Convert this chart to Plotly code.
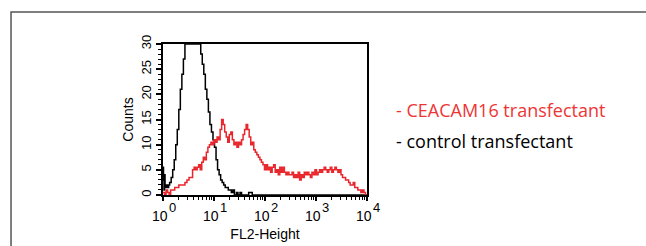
import numpy as np
import plotly.graph_objects as go

# log10(FL2-Height) channel positions and counts
ceacam_log = [0.00,0.03,0.06,0.09,0.12,0.15,0.19,0.23,0.27,0.31,0.35,0.39,0.43,0.47,0.51,0.55,0.58,0.61,0.64,0.67,
              0.70,0.73,0.76,0.79,0.82,0.85,0.88,0.91,0.94,0.97,1.00,1.03,1.06,1.09,1.12,1.15,1.18,1.21,1.24,1.27,
              1.30,1.33,1.36,1.39,1.42,1.45,1.48,1.51,1.54,1.57,1.60,1.63,1.66,1.69,1.72,1.75,1.78,1.81,1.84,1.87,
              1.90,1.93,1.96,1.99,2.02,2.05,2.08,2.11,2.14,2.17,2.20,2.23,2.26,2.29,2.32,2.35,2.38,2.41,2.44,2.47,
              2.50,2.53,2.56,2.59,2.62,2.65,2.68,2.71,2.74,2.77,2.80,2.83,2.86,2.89,2.92,2.95,2.98,3.01,3.04,3.07,
              3.10,3.13,3.16,3.19,3.22,3.25,3.28,3.31,3.34,3.37,3.40,3.43,3.46,3.49,3.52,3.55,3.58,3.61,3.64,3.67,
              3.70,3.73,3.76,3.79,3.82,3.85,3.88,3.91,3.94,3.97,4.00]
ceacam_counts = [0.5,0,1,0.5,0,1,1,1.5,1.5,2,2,2,2.5,3,3.5,3.5,5,5.5,5,5.5,
                 6,5,6.5,7.5,7,8.5,9.5,10,10.5,10,11,10.5,11.5,11,13,15,14,12.5,11.5,10.5,
                 12,12.5,11,10,10.5,9.5,10.5,10,11,12,13,14,13,11.5,10,10.5,9,8.5,8,7.5,
                 7,6.5,6,5,6,5,5.5,4.5,5.5,6,4.5,5,4,5.5,4.5,5.5,4.5,4,4.5,4,
                 4,4.5,3.5,4,3.5,4.5,3,4,3.5,4.5,4,4.5,4,3.5,4.5,4,5,4,4.5,5,
                 4.5,5,5.5,5,4.5,5,5.5,4.5,5,5.5,5,4.5,5,4,3.5,3.5,3,3,2.5,2,
                 2,2.5,1.5,1.5,1,1,0.5,1,0.5,0,0]

control_log = [0.00,0.01,0.02,0.03,0.04,0.05,0.07,0.09,0.11,0.13,0.16,0.19,0.22,0.25,0.28,0.31,0.34,0.37,0.40,0.43,
               0.50,0.60,0.71,0.74,0.77,0.80,0.83,0.86,0.89,0.92,0.95,0.98,1.01,1.04,1.07,1.10,1.13,1.16,1.19,1.22,
               1.25,1.28,1.31,1.34,1.37,1.40,1.44,1.47,1.51,1.54,1.60,1.68,1.72,1.75,2.00,3.00,4.00]
control_counts = [5.5,3,1,4,2,1.5,2,1.5,2,2.5,3.5,5,7,10,13,17,21,24,27,30,
                  30,30,30,28,26,24,21,19,16.5,14,12.5,11,9.5,7,5,4,3,2.5,2,1.5,
                  1.5,1,1,0.5,1,0,0.5,0,0.5,0,0,0.5,0.5,0,0,0,0]

x_tick_exponents = [0, 1, 2, 3, 4]
y_tick_values = [0, 5, 10, 15, 20, 25, 30]
legend_labels = ["- CEACAM16 transfectant", "- control transfectant"]

fig = go.Figure()
fig.add_trace(go.Scatter(x=10 ** np.array(control_log), y=control_counts, mode="lines",
                         line=dict(color="black", width=1.5, shape="hv"), showlegend=False))
fig.add_trace(go.Scatter(x=10 ** np.array(ceacam_log), y=ceacam_counts, mode="lines",
                         line=dict(color="#e8262c", width=1.5, shape="hv"), showlegend=False))

minor_vals = [m * 10 ** e for e in range(4) for m in range(2, 10)]

annotations = [
    dict(text=legend_labels[0], xref="paper", yref="paper", x=1.13, y=0.56,
         xanchor="left", yanchor="middle", showarrow=False,
         font=dict(family="Open Sans", size=18, color="#ee3535")),
    dict(text=legend_labels[1], xref="paper", yref="paper", x=1.13, y=0.36,
         xanchor="left", yanchor="middle", showarrow=False,
         font=dict(family="Open Sans", size=18, color="black")),
]
# x tick labels "10" with full-size raised exponent, placed at each decade tick
for e in x_tick_exponents:
    annotations.append(dict(text="10", xref="x", yref="paper", x=e, y=0,
                            xanchor="right", yanchor="middle", xshift=6, yshift=-21,
                            showarrow=False, borderpad=0,
                            font=dict(family="Liberation Sans, Arial", size=14, color="black")))
    annotations.append(dict(text=str(e), xref="x", yref="paper", x=e, y=0,
                            xanchor="left", yanchor="middle", xshift=5, yshift=-12,
                            showarrow=False, borderpad=0,
                            font=dict(family="Liberation Sans, Arial", size=13, color="black")))

fig.update_layout(
    width=646, height=246,
    margin=dict(l=163, r=279, t=44, b=51),
    paper_bgcolor="white", plot_bgcolor="white",
    font=dict(family="Liberation Sans, Arial", color="black", size=13),
    xaxis=dict(type="log", range=[0, 4], showgrid=False, zeroline=False, automargin=False,
               showline=True, linecolor="black", linewidth=1.5, mirror=True,
               ticks="outside", ticklen=4, tickwidth=1.5, tickcolor="black",
               tickvals=[10 ** e for e in x_tick_exponents], showticklabels=False,
               minor=dict(tickvals=minor_vals, ticks="outside", ticklen=3, tickwidth=1.2, tickcolor="black"),
               title=dict(text="FL2-Height", font=dict(size=14), standoff=29)),
    yaxis=dict(range=[0, 30], showgrid=False, zeroline=False, automargin=False,
               showline=True, linecolor="black", linewidth=1.5, mirror=True,
               ticks="outside", ticklen=5, tickwidth=1.5, tickcolor="black",
               tickvals=y_tick_values, tickangle=-90,
               tickfont=dict(size=13),
               minor=dict(dtick=1, ticks="outside", ticklen=3, tickwidth=1.2, tickcolor="black"),
               title=dict(text="Counts", font=dict(size=14), standoff=2)),
    shapes=[dict(type="rect", xref="paper", yref="paper",
                 x0=-0.745, x1=2.5, y0=-0.5, y1=1.212,
                 line=dict(color="#555555", width=1.5), layer="below")],
    annotations=annotations,
)

fig.write_html("out.html", config={"displayModeBar": False},
               post_script="document.body.style.margin='0';document.body.style.overflow='hidden';")
